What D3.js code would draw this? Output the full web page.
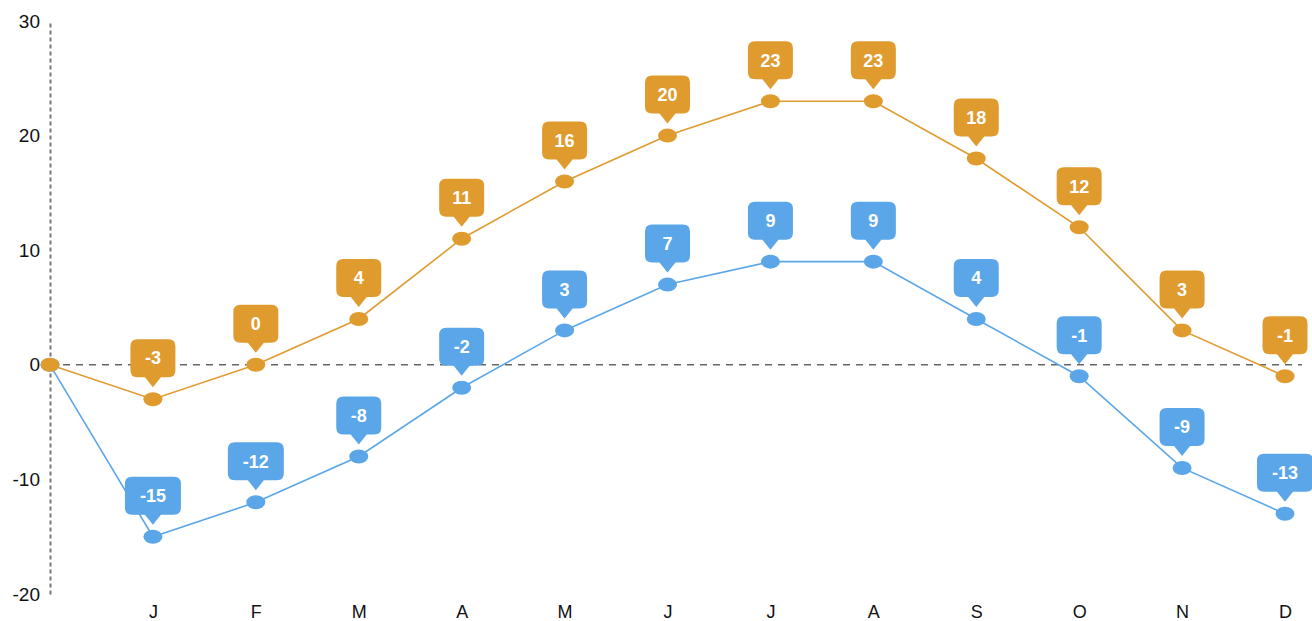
<!DOCTYPE html>
<html>
<head>
<meta charset="utf-8">
<script src="https://cdn.jsdelivr.net/npm/d3@7"></script>
<style>
  body { margin: 0; background: #fff; }
  svg { font-family: "Liberation Sans", Arial, sans-serif; }
</style>
</head>
<body>
<svg id="chart" width="1312" height="621"></svg>
<script>
const months = ["", "J", "F", "M", "A", "M", "J", "J", "A", "S", "O", "N", "D"];
const highTemps = [0, -3, 0, 4, 11, 16, 20, 23, 23, 18, 12, 3, -1];
const lowTemps = [0, -15, -12, -8, -2, 3, 7, 9, 9, 4, -1, -9, -13];
const yTicks = [-20, -10, 0, 10, 20, 30];

const width = 1312;
const height = 621;
const margin = ({top: 21, right: 27, bottom: 27, left: 50});

const svg = d3.select("#chart");

const x = d3.scalePoint()
    .domain(d3.range(months.length))
    .range([margin.left, width - margin.right]);
const y = d3.scaleLinear()
    .domain([-20, 30])
    .range([height - margin.bottom, margin.top]);

// y axis, dashed
const yAxis = g =>
    g.attr("transform", `translate(${margin.left},0)`)
    .call(d3.axisLeft(y).tickValues(yTicks).tickFormat(d => String(d)).tickSize(0).tickPadding(10))
    .call(g => g.select(".domain")
        .attr("stroke", "#777")
        .attr("stroke-width", 2)
        .attr("stroke-dasharray", "4,3"))
    .call(g => g.selectAll("text")
        .attr("font-size", 19)
        .attr("fill", "#111")
        .attr("font-family", "Liberation Sans, Arial, sans-serif"));

svg.append("g").call(yAxis);

// x axis labels
const xAxis = g =>
    g.attr("transform", `translate(0,${height - 3})`)
    .call(d3.axisBottom(x).tickFormat(i => months[i]).tickSize(0).tickPadding(0))
    .call(g => g.select(".domain").remove())
    .call(g => g.selectAll("text")
        .attr("dy", "0")
        .attr("y", 0)
        .attr("font-size", 18)
        .attr("fill", "#111")
        .attr("font-family", "Liberation Sans, Arial, sans-serif"));

svg.append("g").call(xAxis);

// zero line
svg.append("line")
    .attr("x1", margin.left)
    .attr("x2", width - 10)
    .attr("y1", y(0))
    .attr("y2", y(0))
    .attr("stroke", "#666")
    .attr("stroke-width", 1.5)
    .attr("stroke-dasharray", "7,6");

const series = [
    {name: "low", values: lowTemps, color: "#5aa6e8"},
    {name: "high", values: highTemps, color: "#e09b2f"}
];

const line = d3.line()
    .x((d, i) => x(i))
    .y(d => y(d));

series.forEach(s => {
    svg.append("path")
        .datum(s.values)
        .attr("fill", "none")
        .attr("stroke", s.color)
        .attr("stroke-width", 1.6)
        .attr("d", line);
});

series.forEach(s => {
    svg.append("g")
        .selectAll("ellipse")
        .data(s.values)
        .join("ellipse")
        .attr("cx", (d, i) => x(i))
        .attr("cy", d => y(d))
        .attr("rx", 9.5)
        .attr("ry", 7)
        .attr("fill", s.color);
});

// callout labels
function callout(w, h, r, pw, ph) {
    const x0 = -w / 2, x1 = w / 2, y1 = -ph, y0 = -ph - h;
    return `M${x0 + r},${y0} H${x1 - r} Q${x1},${y0} ${x1},${y0 + r}` +
        ` V${y1 - r} Q${x1},${y1} ${x1 - r},${y1}` +
        ` H${pw / 2} L0,0 L${-pw / 2},${y1}` +
        ` H${x0 + r} Q${x0},${y1} ${x0},${y1 - r}` +
        ` V${y0 + r} Q${x0},${y0} ${x0 + r},${y0} Z`;
}

series.forEach(s => {
    const g = svg.append("g")
        .selectAll("g")
        .data(s.values.map((v, i) => ({v, i})).filter(d => d.i > 0))
        .join("g")
        .attr("transform", d => `translate(${x(d.i)},${y(d.v) - 12})`);

    g.append("path")
        .attr("d", d => {
            const len = String(d.v).length;
            const w = len >= 3 ? 56 : 45;
            return callout(w, 38, 7, 16, 10);
        })
        .attr("fill", s.color);

    g.append("text")
        .attr("y", -10 - 19)
        .attr("dy", "0.35em")
        .attr("text-anchor", "middle")
        .attr("fill", "#fff")
        .attr("font-size", 18)
        .attr("font-weight", "bold")
        .text(d => d.v);
});
</script>
</body>
</html>
